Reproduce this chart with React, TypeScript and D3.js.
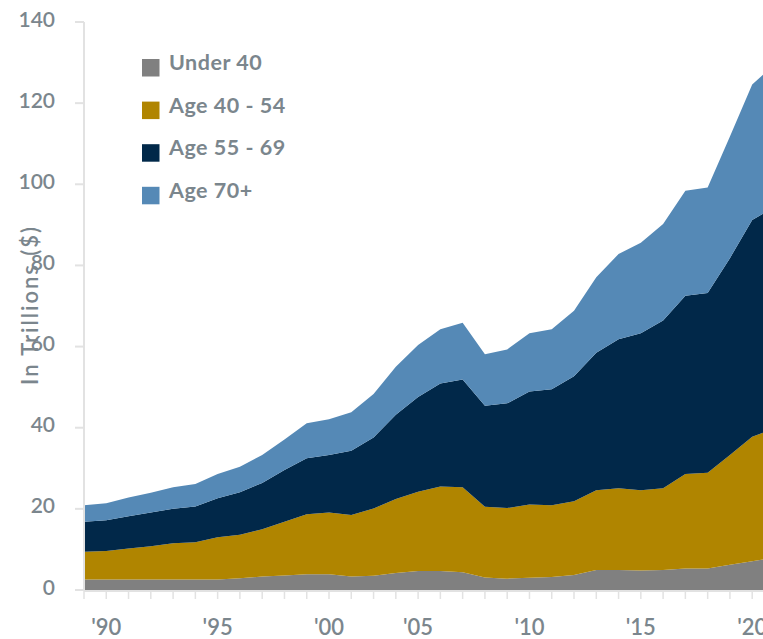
import React from "react";
import * as d3 from "d3";

// Data: one point per year index (0 = first point at the y-axis)
const yearIndex = [0,1,2,3,4,5,6,7,8,9,10,11,12,13,14,15,16,17,18,19,20,21,22,23,24,25,26,27,28,29,30,31];
const under40 = [2.6,2.6,2.6,2.6,2.6,2.6,2.6,2.9,3.3,3.6,3.9,3.9,3.3,3.5,4.2,4.7,4.7,4.4,3.1,2.8,3.0,3.2,3.7,4.9,4.9,4.8,4.9,5.3,5.3,6.2,7.1,8.0];
const age40to54 = [6.8,7.0,7.6,8.2,8.9,9.2,10.4,10.7,11.7,13.2,14.8,15.2,15.2,16.6,18.2,19.5,20.8,20.9,17.4,17.4,18.1,17.7,18.2,19.7,20.2,19.8,20.2,23.3,23.6,27.1,30.7,31.8];
const age55to69 = [7.4,7.6,8.0,8.3,8.5,8.8,9.6,10.5,11.4,12.8,13.8,14.2,15.8,17.5,20.8,23.4,25.4,26.6,24.9,25.8,27.8,28.6,30.8,33.9,36.7,38.7,41.3,43.9,44.3,48.5,53.4,54.6];
const age70plus = [4.1,4.2,4.6,4.9,5.3,5.5,6.0,6.3,6.9,7.5,8.6,8.8,9.5,10.7,11.8,12.8,13.4,14.0,12.7,13.3,14.4,14.8,16.1,18.6,21.0,22.3,23.8,25.9,26.0,30.0,33.4,35.1];

const seriesKeys = ["Under 40", "Age 40 - 54", "Age 55 - 69", "Age 70+"];
const seriesColors = ["#808080", "#B08500", "#012849", "#5589B6"];
const yTicks = [0, 20, 40, 60, 80, 100, 120, 140];
const xTickIndex = [1, 6, 11, 15, 20, 25, 30];
const xTickLabels = ["'90", "'95", "'00", "'05", "'10", "'15", "'20"];

const W = 763, H = 639;
const TEXT = "#7B868D";
const FONT = "Lato, 'Open Sans', sans-serif";

export default function App() {
  const rows = yearIndex.map((i, k) => ({
    i,
    "Under 40": under40[k],
    "Age 40 - 54": age40to54[k],
    "Age 55 - 69": age55to69[k],
    "Age 70+": age70plus[k],
  }));
  const stacked = d3.stack<any>().keys(seriesKeys)(rows);

  const x = d3.scaleLinear().domain([0, 30]).range([84, 752.2]);
  const y = d3.scaleLinear().domain([0, 140]).range([590, 22]);

  const area = d3
    .area<any>()
    .x((d) => x(d.data.i))
    .y0((d) => y(d[0]))
    .y1((d) => y(d[1]));

  const allTicks = d3.range(0, 31);

  return (
    <svg width={W} height={H} style={{ position: "absolute", left: 0, top: 0, background: "#fff" }} fontFamily={FONT}>
      {stacked.map((s, k) => (
        <path key={s.key} d={area(s as any) || ""} fill={seriesColors[k]} />
      ))}
      {/* y axis */}
      <line x1={84} x2={84} y1={y(140)} y2={y(0) + 1} stroke="#E2E2E2" strokeWidth={2} />
      {yTicks.map((t) => (
        <g key={t}>
          <line x1={75} x2={84} y1={y(t)} y2={y(t)} stroke="#E2E2E2" strokeWidth={2} />
          <text x={55} y={y(t)} dy="0.22em" textAnchor="end" fontSize={21} fontWeight={600} fill={TEXT}>
            {t}
          </text>
        </g>
      ))}
      {/* x axis */}
      <line x1={84} x2={W} y1={591} y2={591} stroke="#E2E2E2" strokeWidth={2} />
      {allTicks.map((t) => (
        <line key={t} x1={x(t)} x2={x(t)} y1={591} y2={599} stroke="#E2E2E2" strokeWidth={1.5} />
      ))}
      {xTickIndex.map((t, k) => (
        <text key={t} x={x(t)} y={635} textAnchor="middle" fontSize={22} fontWeight={600} fill={TEXT}>
          {xTickLabels[k]}
        </text>
      ))}
      {/* y axis title */}
      <text
        transform="translate(38,306) rotate(-90)"
        textAnchor="middle"
        fontSize={22}
        fontWeight={600}
        fill={TEXT}
        textLength={158}
        lengthAdjust="spacing"
      >
        In Trillions ($)
      </text>
      {/* legend */}
      {seriesKeys.map((k, idx) => (
        <g key={k} transform={`translate(142, ${59 + idx * 42.6})`}>
          <rect width={17.5} height={17.5} fill={seriesColors[idx]} />
          <text x={27} y={11} fontSize={21.5} fontWeight={700} letterSpacing={0.5} fill={TEXT}>
            {k}
          </text>
        </g>
      ))}
    </svg>
  );
}
